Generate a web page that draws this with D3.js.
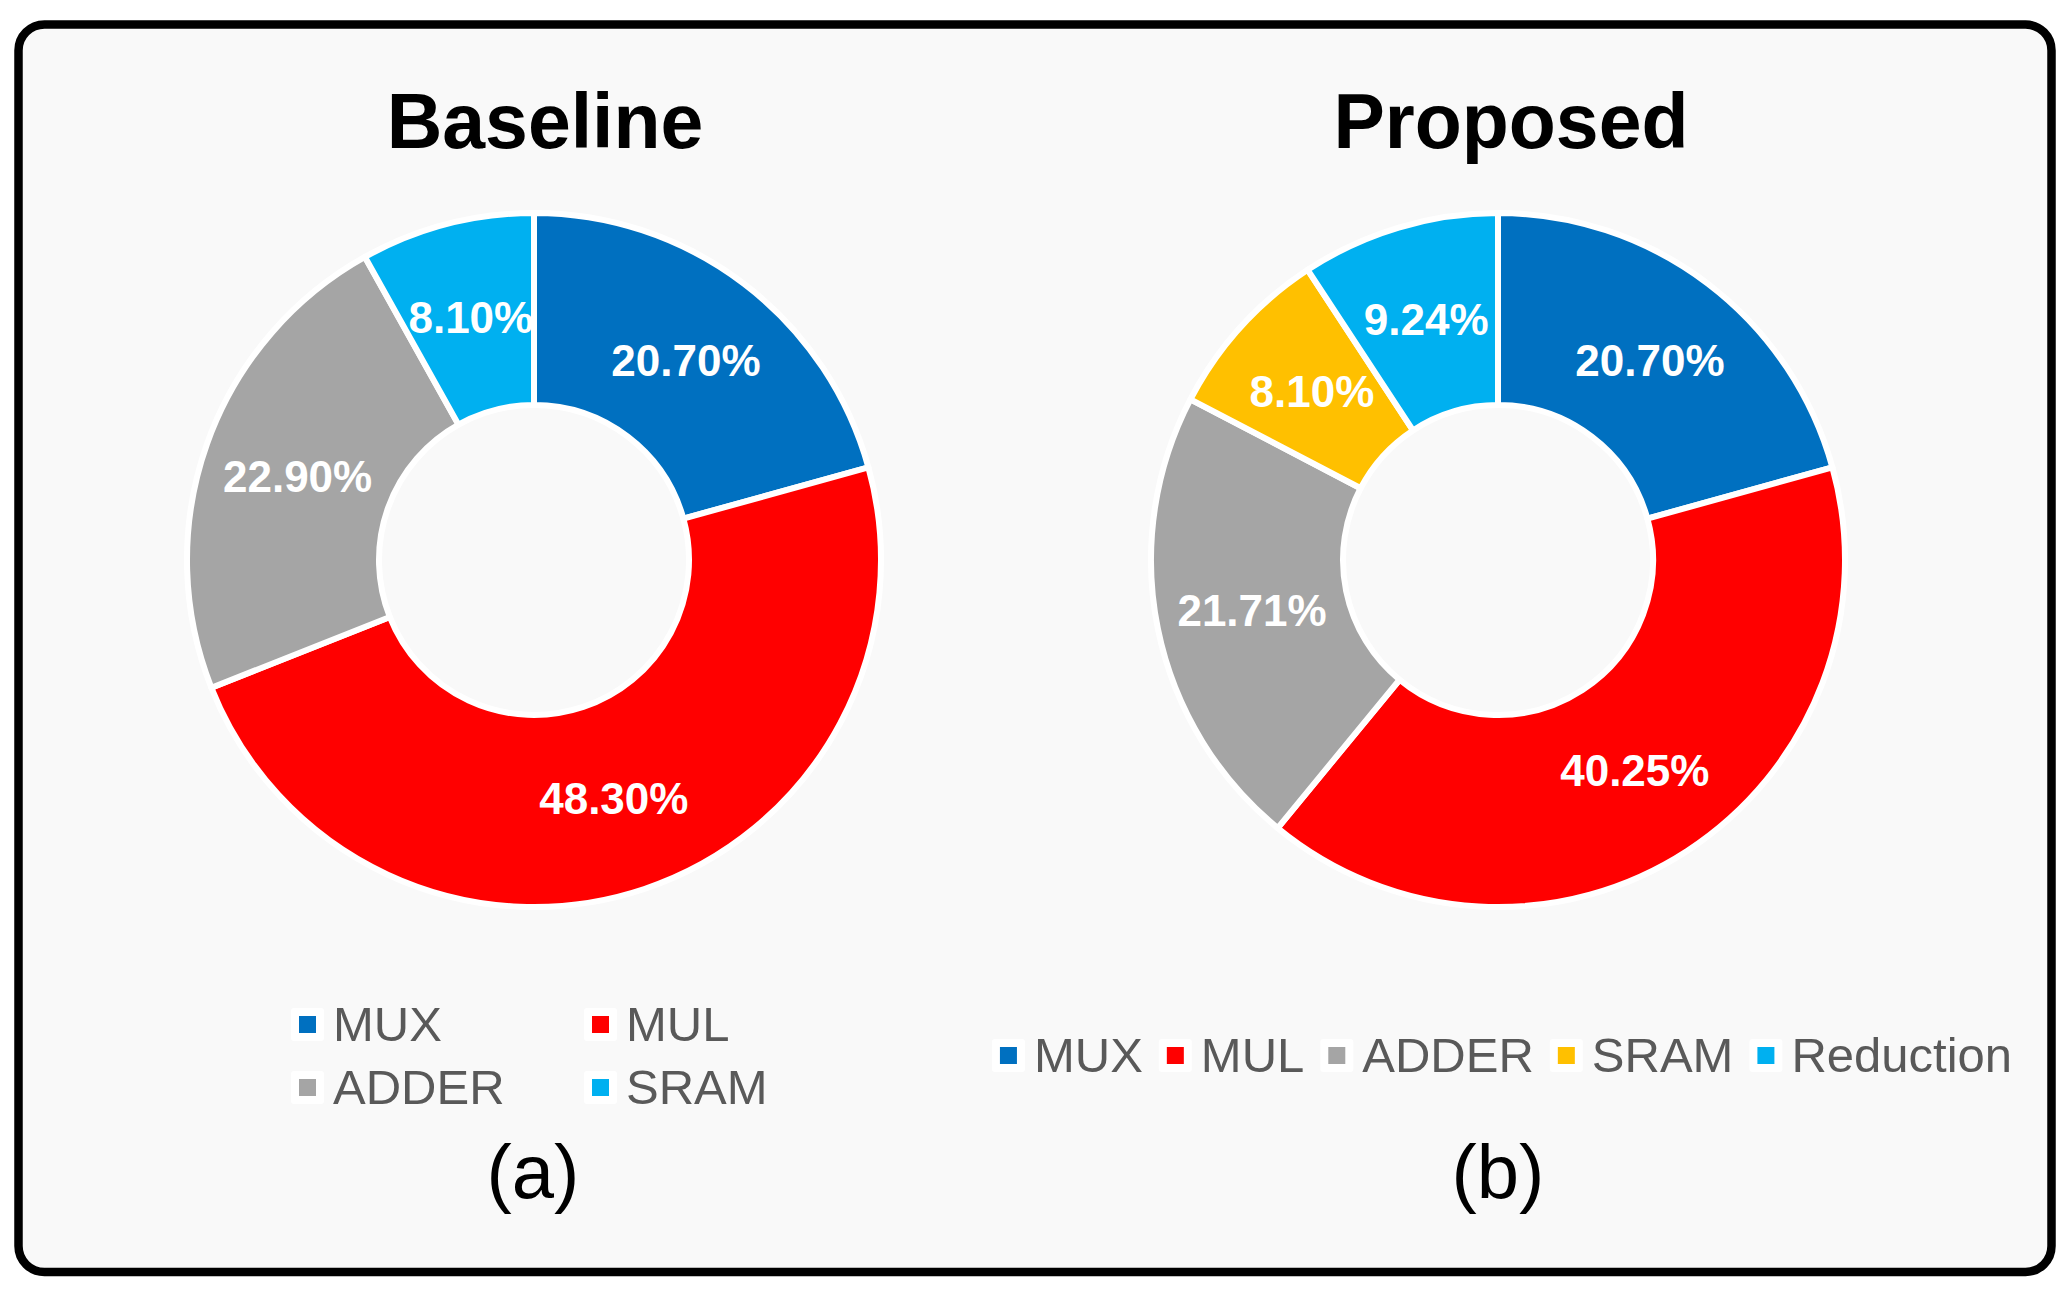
<!DOCTYPE html>
<html>
<head>
<meta charset="utf-8">
<script src="https://cdn.jsdelivr.net/npm/d3@7"></script>
<style>
	html, body { margin: 0; padding: 0; background: #ffffff; }
	svg { display: block; }
	text { font-family: "Liberation Sans", Arial, sans-serif; }
</style>
</head>
<body>
<div id="chart"></div>
<script>
// Chart data
const baselineCategories = ["MUX", "MUL", "ADDER", "SRAM"];
const baselineValues = [20.70, 48.30, 22.90, 8.10];
const baselineColours = ["#0070C0", "#FF0000", "#A5A5A5", "#00B0F0"];

const proposedCategories = ["MUX", "MUL", "ADDER", "SRAM", "Reduction"];
const proposedValues = [20.70, 40.25, 21.71, 8.10, 9.24];
const proposedColours = ["#0070C0", "#FF0000", "#A5A5A5", "#FFC000", "#00B0F0"];

const titles = ["Baseline", "Proposed"];
const captions = ["(a)", "(b)"];

const width = 2072, height = 1300;

const svg = d3.select("#chart").append("svg")
	.attr("width", width)
	.attr("height", height)
	.attr("viewBox", `0 0 ${width} ${height}`);

// Rounded frame round both charts
svg.append("rect")
	.attr("x", 18.5).attr("y", 24.5)
	.attr("width", 2033).attr("height", 1247.5)
	.attr("rx", 26).attr("ry", 26)
	.style("fill", "#f9f9f9")
	.style("stroke", "#000")
	.style("stroke-width", 8.5);

const outerRadius = 347, innerRadius = 155;

function drawDonut(cx, cy, categories, values, colours) {
	let g = svg.append("g").attr("transform", `translate(${cx}, ${cy})`);

	let pie = d3.pie().sort(null).value((d) => d);
	let arc = d3.arc().innerRadius(innerRadius).outerRadius(outerRadius);
	let labelArc = d3.arc()
		.innerRadius((innerRadius + outerRadius) / 2)
		.outerRadius((innerRadius + outerRadius) / 2);

	let arcs = pie(values);

	g.selectAll("path")
		.data(arcs)
		.enter()
		.append("path")
		.attr("d", arc)
		.style("fill", (d, i) => colours[i])
		.style("stroke", "#ffffff")
		.style("stroke-width", 6)
		.style("stroke-linejoin", "round");

	// percentage labels at mid radius
	g.selectAll("text")
		.data(arcs)
		.enter()
		.append("text")
		.attr("transform", (d) => `translate(${labelArc.centroid(d)})`)
		.attr("text-anchor", "middle")
		.attr("dy", "0.36em")
		.style("font-size", "44px")
		.style("font-weight", "bold")
		.style("fill", "#ffffff")
		.text((d) => d.data.toFixed(2) + "%");
}

function legendItem(g, x, y, colour, label) {
	// faint white key box, then the colour square, then the label
	g.append("rect")
		.attr("x", x - 8).attr("y", y - 16)
		.attr("width", 33).attr("height", 33)
		.attr("rx", 3)
		.style("fill", "#ffffff");
	g.append("rect")
		.attr("x", x).attr("y", y - 8)
		.attr("width", 17).attr("height", 17)
		.style("fill", colour);
	return g.append("text")
		.attr("x", x + 34).attr("y", y + 17)
		.style("font-size", "49px")
		.style("fill", "#595959")
		.text(label);
}

function drawTitle(x, text) {
	svg.append("text")
		.attr("x", x).attr("y", 148)
		.attr("text-anchor", "middle")
		.style("font-size", "77px")
		.style("font-weight", "bold")
		.style("fill", "#000")
		.text(text);
}

function drawCaption(x, text) {
	svg.append("text")
		.attr("x", x).attr("y", 1198)
		.attr("text-anchor", "middle")
		.style("font-size", "76px")
		.style("fill", "#000")
		.text(text);
}

// (a) Baseline
drawTitle(545, titles[0]);
drawDonut(534, 560, baselineCategories, baselineValues, baselineColours);

let legendA = svg.append("g");
let legendAColumns = [299, 592];
let legendARows = [1024, 1087];
baselineCategories.forEach((cat, i) => {
	legendItem(legendA, legendAColumns[i % 2], legendARows[Math.floor(i / 2)], baselineColours[i], cat);
});
drawCaption(533, captions[0]);

// (b) Proposed
drawTitle(1511, titles[1]);
drawDonut(1498, 560, proposedCategories, proposedValues, proposedColours);

// one row legend, placed by measured label widths and centred under the donut
let legendB = svg.append("g");
let xPos = 0;
proposedCategories.forEach((cat, i) => {
	let t = legendItem(legendB, xPos, 1055, proposedColours[i], cat);
	xPos += 34 + t.node().getComputedTextLength() + 24;
});
let legendWidth = xPos - 24;
legendB.attr("transform", `translate(${1506 - legendWidth / 2}, 0)`);

drawCaption(1498, captions[1]);
</script>
</body>
</html>
